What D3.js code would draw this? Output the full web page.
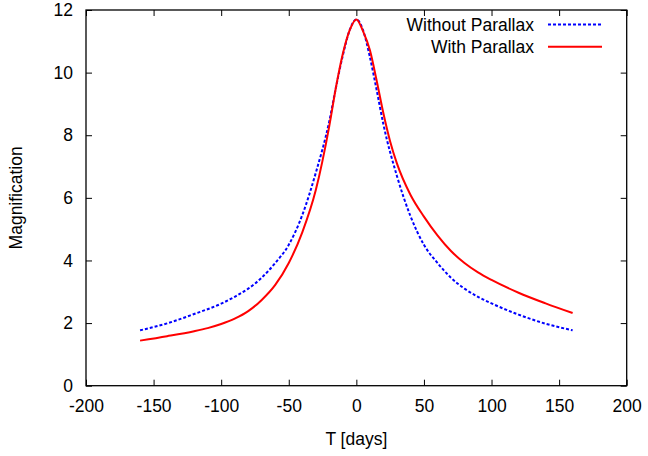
<!DOCTYPE html>
<html>
<head>
<meta charset="utf-8">
<script src="https://cdn.jsdelivr.net/npm/d3@7"></script>
<style>
  body { margin: 0; background: #fff; }
  text { font-family: "Liberation Sans", Arial, sans-serif; }
</style>
</head>
<body>
<div id="chart"></div>
<script>
// data
const xTicks = [-200, -150, -100, -50, 0, 50, 100, 150, 200]
const yTicks = [0, 2, 4, 6, 8, 10, 12]

const tNoPar = [-160, -140, -120, -100, -90, -80, -70, -60, -50, -40, -30, -20, -15, -10, -5, 0,
  5, 10, 15, 20, 30, 40, 50, 60, 70, 80, 90, 100, 120, 140, 160]
const magNoPar = [1.77, 1.99, 2.29, 2.62, 2.84, 3.1, 3.45, 3.92, 4.5, 5.45, 6.8, 8.45, 9.55, 10.55, 11.35, 11.7,
  11.35, 10.5, 9.45, 8.35, 6.7, 5.42, 4.5, 3.92, 3.45, 3.1, 2.84, 2.63, 2.27, 1.98, 1.77]

const tPar = [-160, -140, -120, -110, -100, -90, -80, -70, -60, -50, -40, -30, -20, -15, -10, -5, 0,
  5, 10, 15, 20, 25, 30, 40, 50, 60, 70, 80, 90, 100, 120, 140, 160]
const magPar = [1.44, 1.58, 1.74, 1.84, 1.97, 2.14, 2.38, 2.74, 3.22, 3.92, 4.9, 6.25, 8.3, 9.55, 10.6, 11.35, 11.7,
  11.32, 10.72, 9.75, 8.7, 7.8, 7.1, 6.1, 5.4, 4.8, 4.3, 3.92, 3.62, 3.38, 2.97, 2.63, 2.32]

const width = 648, height = 456
const margin = {top: 10, right: 21.3, bottom: 70.3, left: 86}

const x = d3.scaleLinear().domain([-200, 200]).range([margin.left, width - margin.right])
const y = d3.scaleLinear().domain([0, 12]).range([height - margin.bottom, margin.top])

const svg = d3.select("#chart").append("svg")
  .attr("width", width)
  .attr("height", height)

const tick = 6
const fs = "17.5px"
const plain = d => String(d)   // hyphen minus, like the original

// bottom axis + mirrored top ticks
svg.append("g")
  .attr("transform", `translate(0,${y(0)})`)
  .call(d3.axisBottom(x).tickValues(xTicks).tickFormat(plain).tickSizeInner(-tick).tickSizeOuter(0).tickPadding(14))
  .call(g => g.select(".domain").remove())
  .call(g => g.selectAll("text").attr("font-size", fs).attr("font-family", "Liberation Sans, Arial, sans-serif").attr("fill", "#000"))

svg.append("g")
  .attr("transform", `translate(0,${y(12)})`)
  .call(d3.axisTop(x).tickValues(xTicks).tickSizeInner(-tick).tickSizeOuter(0).tickFormat(""))
  .call(g => g.select(".domain").remove())

// left axis + mirrored right ticks
svg.append("g")
  .attr("transform", `translate(${x(-200)},0)`)
  .call(d3.axisLeft(y).tickValues(yTicks).tickFormat(plain).tickSizeInner(-tick).tickSizeOuter(0).tickPadding(13))
  .call(g => g.select(".domain").remove())
  .call(g => g.selectAll("text").attr("font-size", fs).attr("font-family", "Liberation Sans, Arial, sans-serif").attr("fill", "#000"))

svg.append("g")
  .attr("transform", `translate(${x(200)},0)`)
  .call(d3.axisRight(y).tickValues(yTicks).tickSizeInner(-tick).tickSizeOuter(0).tickFormat(""))
  .call(g => g.select(".domain").remove())

// frame
svg.append("rect")
  .attr("x", x(-200)).attr("y", y(12))
  .attr("width", x(200) - x(-200)).attr("height", y(0) - y(12))
  .attr("fill", "none").attr("stroke", "#000").attr("stroke-width", 1.3)

// curves
const line = d3.line().x(d => x(d[0])).y(d => y(d[1])).curve(d3.curveMonotoneX)

svg.append("path")
  .datum(d3.zip(tNoPar, magNoPar))
  .attr("d", line)
  .attr("fill", "none").attr("stroke", "#0000ff").attr("stroke-width", 2)
  .attr("stroke-dasharray", "3,2")

svg.append("path")
  .datum(d3.zip(tPar, magPar))
  .attr("d", line)
  .attr("fill", "none").attr("stroke", "#ff0000").attr("stroke-width", 2)

// legend
const legend = [
  {name: "Without Parallax", color: "#0000ff", dash: "3,2", yy: 24.5},
  {name: "With Parallax", color: "#ff0000", dash: null, yy: 46.8}
]
const lg = svg.append("g")
lg.selectAll("text").data(legend).enter().append("text")
  .attr("x", 534).attr("y", d => d.yy + 6.5)
  .attr("text-anchor", "end")
  .attr("font-size", fs)
  .text(d => d.name)
lg.selectAll("line").data(legend).enter().append("line")
  .attr("x1", 548).attr("x2", 602)
  .attr("y1", d => d.yy).attr("y2", d => d.yy)
  .attr("stroke", d => d.color).attr("stroke-width", 2)
  .attr("stroke-dasharray", d => d.dash)

// axis titles
svg.append("text")
  .attr("x", x(0)).attr("y", 445)
  .attr("text-anchor", "middle")
  .attr("font-size", fs)
  .text("T [days]")

svg.append("text")
  .attr("transform", `translate(22,${(y(0) + y(12)) / 2}) rotate(-90)`)
  .attr("text-anchor", "middle")
  .attr("font-size", fs)
  .text("Magnification")
</script>
</body>
</html>
